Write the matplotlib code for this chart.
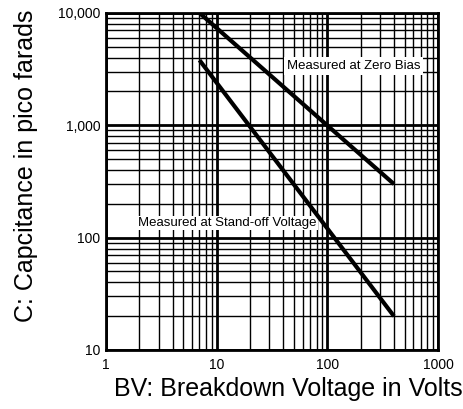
import matplotlib
matplotlib.use("Agg")
import matplotlib.pyplot as plt
from matplotlib.ticker import FixedLocator, LogLocator, NullFormatter

plt.rcParams['font.family'] = ['Liberation Sans', 'DejaVu Sans']

# curves (volts, picofarads)
bv_zero = [7, 400]
c_zero = [10000, 300]
bv_standoff = [7, 400]
c_standoff = [3800, 20]

x_ticks = [1, 10, 100, 1000]
x_labels = ["1", "10", "100", "1000"]
y_ticks = [10, 100, 1000, 10000]
y_labels = ["10", "100", "1,000", "10,000"]

fig = plt.figure(figsize=(4.64, 4.09), dpi=100)
ax = fig.add_axes([0.2284, 0.1443, 0.7155, 0.824])

ax.set_xscale("log")
ax.set_yscale("log")
ax.set_xlim(1, 1000)
ax.set_ylim(10, 10000)

ax.xaxis.set_major_locator(FixedLocator(x_ticks))
ax.yaxis.set_major_locator(FixedLocator(y_ticks))
ax.set_xticklabels(x_labels)
ax.set_yticklabels(y_labels)
ax.xaxis.set_minor_locator(LogLocator(base=10, subs=range(2, 10)))
ax.yaxis.set_minor_locator(LogLocator(base=10, subs=range(2, 10)))
ax.xaxis.set_minor_formatter(NullFormatter())
ax.yaxis.set_minor_formatter(NullFormatter())

ax.grid(which="major", color="black", lw=2.0)
ax.grid(which="minor", color="black", lw=1.0)
ax.set_axisbelow(True)
ax.tick_params(which="both", length=0, labelsize=10, colors="black")
ax.tick_params(axis="x", pad=6)
ax.tick_params(axis="y", pad=4)
for s in ax.spines.values():
    s.set_linewidth(2.0)

ax.plot(bv_zero, c_zero, color="black", lw=3, solid_capstyle="butt", zorder=3)
ax.plot(bv_standoff, c_standoff, color="black", lw=3, solid_capstyle="butt", zorder=3)

ax.text(43, 3380, "Measured at Zero Bias", fontsize=9.5, va="center", ha="left",
        bbox=dict(facecolor="white", edgecolor="none", pad=2), zorder=4)
ax.text(1.95, 135, "Measured at Stand-off Voltage", fontsize=9.5, va="center", ha="left",
        bbox=dict(facecolor="white", edgecolor="none", pad=1), zorder=2)

ax.set_xlabel("BV: Breakdown Voltage in Volts", fontsize=18)
ax.set_ylabel("C: Capcitance in pico farads", fontsize=18)
ax.xaxis.set_label_coords(0.548, -0.08)
ax.yaxis.set_label_coords(-0.205, 0.546)

fig.savefig("out.png", dpi=100)
